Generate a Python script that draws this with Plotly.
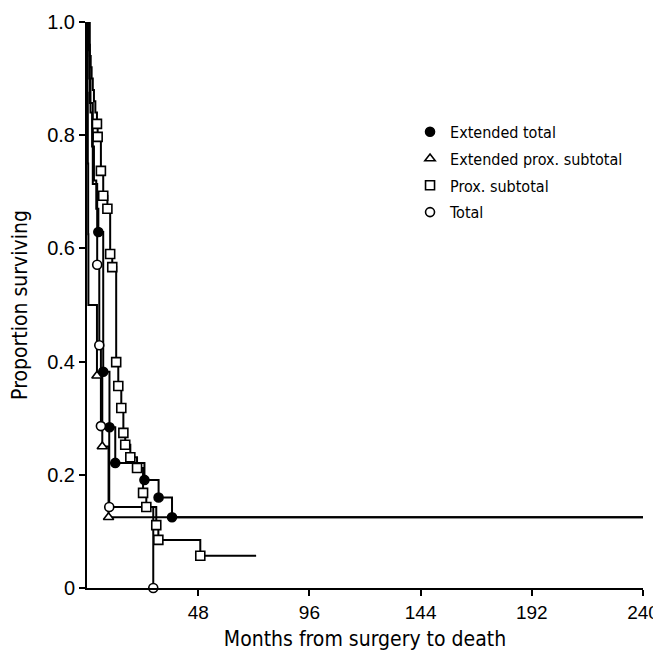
import plotly.graph_objects as go

# ---- data (months, proportion surviving) ----
ext_total_t = [0, 0.5, 1.0, 1.5, 2.2, 3.0, 4.0, 4.9, 7.0, 9.7, 12.2, 24.8, 30.9, 36.7, 240]
ext_total_s = [1.0, 0.95, 0.90, 0.84, 0.78, 0.72, 0.67, 0.629, 0.382, 0.284, 0.221, 0.191, 0.160, 0.125, 0.125]
ext_total_mark = [0, 0, 0, 0, 0, 0, 0, 1, 1, 1, 1, 1, 1, 1, 0]

ext_prox_t = [0, 0.2, 0.35, 0.5, 0.6, 4.3, 6.6, 9.3, 240]
ext_prox_s = [1.0, 0.875, 0.75, 0.625, 0.5, 0.375, 0.25, 0.125, 0.125]
ext_prox_mark = [0, 0, 0, 0, 0, 1, 1, 1, 0]

prox_t = [0, 0.4, 0.8, 1.2, 1.6, 2.0, 2.5, 3.0, 3.6, 4.3, 4.6, 6.0, 7.0, 8.8, 10.0, 10.9,
          12.6, 13.5, 14.8, 15.7, 16.5, 18.7, 21.6, 24.2, 25.6, 29.9, 30.8, 48.9, 73]
prox_s = [1.0, 0.98, 0.96, 0.94, 0.92, 0.90, 0.88, 0.86, 0.84, 0.820, 0.797, 0.737, 0.693, 0.670, 0.590, 0.567,
          0.399, 0.357, 0.318, 0.274, 0.253, 0.231, 0.212, 0.168, 0.143, 0.111, 0.085, 0.057, 0.057]
prox_mark = [0, 0, 0, 0, 0, 0, 0, 0, 0, 1, 1, 1, 1, 1, 1, 1,
             1, 1, 1, 1, 1, 1, 1, 1, 1, 1, 1, 1, 0]

total_t = [0, 1.2, 2.5, 4.4, 5.3, 6.0, 9.6, 28.6]
total_s = [1.0, 0.857, 0.714, 0.571, 0.429, 0.286, 0.143, 0.0]
total_mark = [0, 0, 0, 1, 1, 1, 1, 1]

series_names = ["Extended total", "Extended prox. subtotal", "Prox. subtotal", "Total"]
x_ticks = [48, 96, 144, 192, 240]
y_ticks = [0, 0.2, 0.4, 0.6, 0.8, 1.0]
y_tick_text = ["0", "0.2", "0.4", "0.6", "0.8", "1.0"]

FONT = "DejaVu Sans Condensed, Liberation Sans Narrow, Arial, sans-serif"
TICK_FONT = "Liberation Sans, Arial, sans-serif"

series = [
    (ext_total_t, ext_total_s, ext_total_mark, "circle", "black"),
    (ext_prox_t, ext_prox_s, ext_prox_mark, "triangle-up", "white"),
    (prox_t, prox_s, prox_mark, "square", "white"),
    (total_t, total_s, total_mark, "circle", "white"),
]

fig = go.Figure()
# step lines
for (t, s, m, sym, fill), name in zip(series, series_names):
    fig.add_trace(go.Scatter(x=t, y=s, mode="lines", line=dict(shape="hv", color="black", width=2),
                             showlegend=False, hoverinfo="skip", cliponaxis=False))
# markers
for (t, s, m, sym, fill), name in zip(series, series_names):
    xs = [a for a, k in zip(t, m) if k]
    ys = [b for b, k in zip(s, m) if k]
    fig.add_trace(go.Scatter(x=xs, y=ys, mode="markers", name=name, legendgroup=name,
                             marker=dict(symbol=sym, size=9, color=fill, line=dict(color="black", width=1.6)),
                             showlegend=True, cliponaxis=False))

# the page has an 8px default body margin, so the figure is sized/margined to compensate
fig.update_layout(
    width=653, height=644,
    margin=dict(l=79, r=18, t=14, b=64),
    paper_bgcolor="white", plot_bgcolor="white",
    font=dict(family=FONT, color="black", size=18),
    legend=dict(x=0.581, y=0.836, xanchor="left", yanchor="top", bgcolor="rgba(0,0,0,0)",
                font=dict(size=16, family=FONT), tracegroupgap=3, itemwidth=30),
    xaxis=dict(range=[0, 240], tickvals=x_ticks, showgrid=False, zeroline=False, automargin=False,
               showline=True, linecolor="black", linewidth=2, ticks="outside", ticklen=6,
               tickcolor="black", tickwidth=1.5, tickfont=dict(size=19, family=TICK_FONT),
               ticklabeloverflow="allow",
               title=dict(text="Months from surgery to death", font=dict(size=21), standoff=10)),
    yaxis=dict(range=[0, 1.0], tickvals=y_ticks, ticktext=y_tick_text, showgrid=False, zeroline=False,
               automargin=False,
               showline=True, linecolor="black", linewidth=2, ticks="outside", ticklen=6,
               tickcolor="black", tickwidth=1.5, tickfont=dict(size=20, family=TICK_FONT),
               title=dict(text="Proportion surviving", font=dict(size=21), standoff=16)),
)

fig.write_html("out.html",
               post_script="document.documentElement.style.overflow='hidden';"
                           "document.body.style.overflow='hidden';")
